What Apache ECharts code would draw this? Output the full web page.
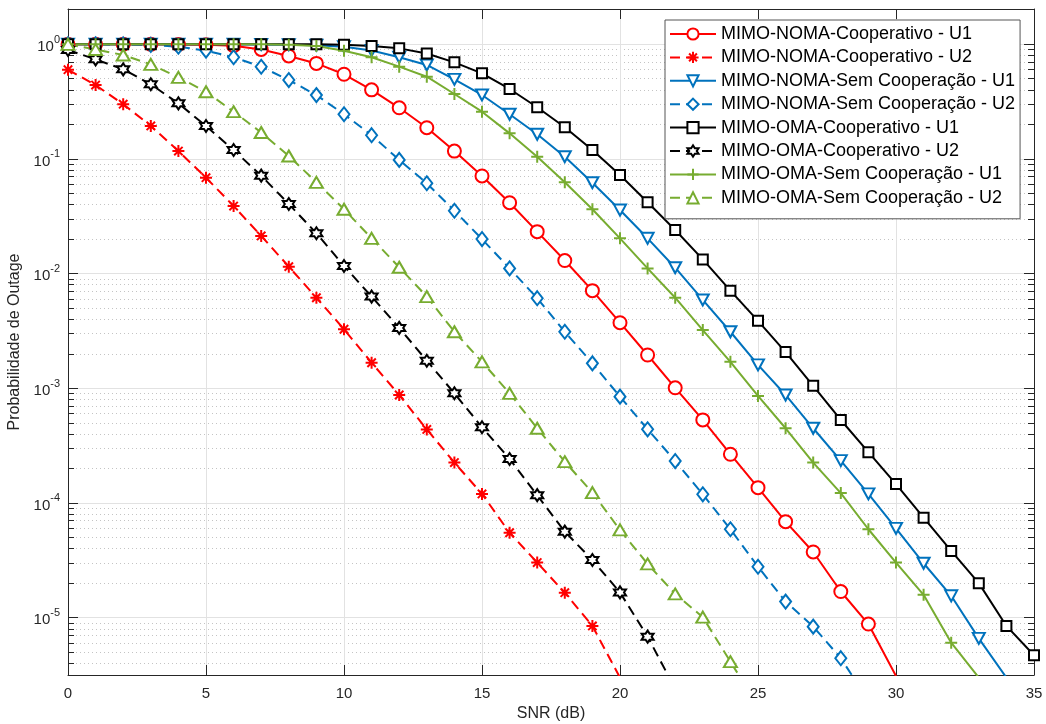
<!DOCTYPE html>
<html>
<head>
<meta charset="utf-8">
<title>Probabilidade de Outage</title>
<script src="https://cdn.jsdelivr.net/npm/echarts@6/dist/echarts.min.js"></script>
<style>
  html, body { margin: 0; padding: 0; background: #fff; }
  #chart { width: 1046px; height: 724px; }
</style>
</head>
<body>
<div id="chart"></div>
<script>
// SNR em dB (eixo x)
var snr = [0, 1, 2, 3, 4, 5, 6, 7, 8, 9, 10, 11, 12, 13, 14, 15, 16, 17, 18, 19,
           20, 21, 22, 23, 24, 25, 26, 27, 28, 29, 30, 31, 32, 33, 34, 35];
var xTicks = [0, 5, 10, 15, 20, 25, 30, 35];
var yDecades = [-5, -4, -3, -2, -1, 0];

// valores (null = fora do grafico)
var nomaCoopU1 = [0.999, 0.999, 0.999, 0.998, 0.995, 0.99, 0.97, 0.90, 0.79, 0.68,
                  0.547, 0.40, 0.279, 0.187, 0.117, 0.071, 0.0415, 0.0232, 0.0130, 0.0071,
                  0.00373, 0.00195, 0.00101, 5.3e-4, 2.66e-4, 1.36e-4, 6.87e-5, 3.74e-5, 1.69e-5, 8.8e-6,
                  3.1e-6, null, null, null, null, null];
var nomaCoopU2 = [0.60, 0.44, 0.30, 0.194, 0.117, 0.0686, 0.0388, 0.0213, 0.0115, 0.00616,
                  0.00327, 0.00167, 8.74e-4, 4.38e-4, 2.25e-4, 1.20e-4, 5.5e-5, 3.02e-5, 1.65e-5, 8.47e-6,
                  3.0e-6, null, null, null, null, null, null, null, null, null,
                  null, null, null, null, null, null];
var nomaSemU1 = [1.0, 1.0, 1.0, 1.0, 0.999, 0.999, 0.998, 0.995, 0.99, 0.98,
                 0.95, 0.88, 0.77, 0.659, 0.494, 0.361, 0.245, 0.164, 0.1045, 0.062,
                 0.0358, 0.0203, 0.01125, 0.00589, 0.00311, 0.0016, 8.74e-4, 4.48e-4, 2.34e-4, 1.20e-4,
                 6.0e-5, 2.98e-5, 1.55e-5, 6.6e-6, 3.0e-6, null];
var nomaSemU2 = [0.999, 0.998, 0.995, 0.985, 0.95, 0.88, 0.77, 0.636, 0.487, 0.36,
                 0.245, 0.161, 0.098, 0.0613, 0.0353, 0.020, 0.0111, 0.0061, 0.00311, 0.00165,
                 8.45e-4, 4.39e-4, 2.32e-4, 1.19e-4, 5.9e-5, 2.78e-5, 1.38e-5, 8.35e-6, 4.43e-6, 1.9e-6,
                 null, null, null, null, null, null];
var omaCoopU1 = [1.0, 1.0, 1.0, 1.0, 1.0, 1.0, 1.0, 0.999, 0.999, 0.998,
                 0.99, 0.965, 0.92, 0.83, 0.695, 0.557, 0.407, 0.282, 0.189, 0.1196,
                 0.0724, 0.0419, 0.0240, 0.0133, 0.0071, 0.00387, 0.00207, 0.00105, 5.29e-4, 2.77e-4,
                 1.46e-4, 7.45e-5, 3.82e-5, 2.0e-5, 8.47e-6, 4.7e-6];
var omaCoopU2 = [0.89, 0.738, 0.604, 0.447, 0.305, 0.1935, 0.1196, 0.0714, 0.0404, 0.0225,
                 0.01165, 0.0063, 0.00336, 0.00174, 9.04e-4, 4.57e-4, 2.42e-4, 1.17e-4, 5.62e-5, 3.18e-5,
                 1.66e-5, 6.83e-6, 2.4e-6, null, null, null, null, null, null, null,
                 null, null, null, null, null, null];
var omaSemU1 = [1.0, 1.0, 1.0, 1.0, 1.0, 1.0, 0.999, 0.998, 0.99, 0.965,
                0.877, 0.77, 0.637, 0.521, 0.368, 0.258, 0.167, 0.1045, 0.0625, 0.0364,
                0.0203, 0.0111, 0.00616, 0.00322, 0.0017, 8.57e-4, 4.48e-4, 2.25e-4, 1.22e-4, 5.9e-5,
                3.02e-5, 1.58e-5, 6.05e-6, 3.0e-6, null, null];
var omaSemU2 = [0.998, 0.90, 0.805, 0.668, 0.514, 0.385, 0.258, 0.170, 0.106, 0.0625,
                0.0364, 0.0203, 0.01135, 0.0063, 0.00311, 0.0017, 9.04e-4, 4.48e-4, 2.29e-4, 1.23e-4,
                5.82e-5, 2.94e-5, 1.61e-5, 1.01e-5, 4.13e-6, 1.7e-6, null, null, null, null,
                null, null, null, null, null, null];

var FONT = 'Liberation Sans, Arial, Helvetica, sans-serif';
var AX = '#262626';
var RED = '#FF0000', BLUE = '#0072BD', BLACK = '#000000', GREEN = '#77AC30';

// simbolos do matlab
var asterisk = 'path://M5,0L5,10M0,5L10,5M1.5,1.5L8.5,8.5M8.5,1.5L1.5,8.5';
var plus = 'path://M5,0L5,10M0,5L10,5';
var hexagram = 'path://M5,0L6.443,2.5L9.33,2.5L7.887,5L9.33,7.5L6.443,7.5L5,10L3.557,7.5L0.67,7.5L2.113,5L0.67,2.5L3.557,2.5Z';

var logMin = -5.5, logMax = 0.307;
var minorLogs = [];
for (var e = -6; e <= 0; e++) {
    for (var k = 2; k <= 9; k++) {
        var v = e + Math.log10(k);
        if (v > logMin && v < logMax) minorLogs.push(v);
    }
}

function pts(vals) {
    var out = [];
    snr.forEach(function (x, i) {
        if (vals[i] != null) out.push([x, vals[i]]);
    });
    return out;
}

function mkSeries(name, vals, color, symbol, size, dashed, rotate) {
    return {
        name: name,
        type: 'line',
        xAxisIndex: 0,
        yAxisIndex: 0,
        data: pts(vals),
        symbol: symbol,
        symbolSize: size,
        symbolRotate: rotate || 0,
        showAllSymbol: true,
        clip: true,
        lineStyle: { color: color, width: 2, type: dashed ? [10, 6] : 'solid' },
        itemStyle: { color: '#fff', borderColor: color, borderWidth: 2 },
        emphasis: { disabled: true },
        z: 3
    };
}

var chart = echarts.init(document.getElementById('chart'));

var option = {
    animation: false,
    backgroundColor: '#fff',
    textStyle: { fontFamily: FONT },
    grid: { left: 68, right: 12, top: 9, bottom: 49, containLabel: false, outerBoundsMode: 'none' },
    legend: {
        orient: 'vertical',
        left: 665,
        top: 20,
        itemWidth: 46,
        itemHeight: 14,
        itemGap: 3.4,
        padding: [4, 5, 11, 4],
        backgroundColor: '#fff',
        borderColor: '#555',
        borderWidth: 1,
        textStyle: { fontSize: 18, color: '#000', fontFamily: FONT, lineHeight: 20 },
        selectedMode: false
    },
    xAxis: [{
        type: 'value',
        position: 'bottom',
        min: xTicks[0],
        max: xTicks[xTicks.length - 1],
        interval: 5,
        name: 'SNR (dB)',
        nameLocation: 'middle',
        nameGap: 31,
        nameTextStyle: { fontSize: 16, color: AX, fontFamily: FONT },
        axisLine: { show: true, onZero: false, lineStyle: { color: AX, width: 1 } },
        axisTick: { show: true, inside: true, length: 10, lineStyle: { color: AX } },
        axisLabel: { fontSize: 15, color: AX, margin: 11, fontFamily: FONT },
        splitLine: { show: true, lineStyle: { color: '#e2e2e2', width: 1 } }
    }, {
        type: 'value',
        position: 'top',
        min: xTicks[0],
        max: xTicks[xTicks.length - 1],
        interval: 5,
        axisLine: { show: true, onZero: false, lineStyle: { color: AX, width: 1 } },
        axisTick: { show: true, inside: true, length: 10, lineStyle: { color: AX } },
        axisLabel: { show: false },
        splitLine: { show: false }
    }],
    yAxis: [{
        type: 'log',
        logBase: 10,
        position: 'left',
        min: Math.pow(10, logMin),
        max: Math.pow(10, logMax),
        name: 'Probabilidade de Outage',
        nameLocation: 'middle',
        nameGap: 41,
        nameTextStyle: { fontSize: 16, color: AX, fontFamily: FONT },
        axisLine: { show: true, onZero: false, lineStyle: { color: AX, width: 1 } },
        axisTick: { show: true, inside: true, length: 10, lineStyle: { color: AX } },
        axisLabel: {
            margin: 8,
            showMinLabel: false,
            showMaxLabel: false,
            formatter: function (val) {
                var p = Math.log10(val);
                var r = Math.round(p);
                if (Math.abs(p - r) > 0.01 || yDecades.indexOf(r) < 0) return '';
                return '{b|10}{s|' + r + '}';
            },
            rich: {
                b: { fontSize: 15, color: AX, fontFamily: FONT, lineHeight: 20, verticalAlign: 'bottom' },
                s: { fontSize: 11, color: AX, fontFamily: FONT, lineHeight: 12, verticalAlign: 'top' }
            }
        },
        splitLine: { show: true, lineStyle: { color: '#e2e2e2', width: 1 } },
        minorTick: { show: false },
        minorSplitLine: { show: false }
    }, {
        // subdivisoes 2..9 de cada decada (grade pontilhada)
        type: 'value',
        position: 'left',
        min: logMin,
        max: logMax,
        axisLine: { show: false, onZero: false },
        axisTick: { show: true, inside: true, length: 6, customValues: minorLogs, lineStyle: { color: AX } },
        axisLabel: { show: false },
        splitLine: { show: true, lineStyle: { color: '#c4c4c4', width: 1, type: [1, 3] } }
    }, {
        type: 'value',
        position: 'right',
        min: logMin,
        max: logMax,
        axisLine: { show: true, onZero: false, lineStyle: { color: AX, width: 1 } },
        axisTick: { show: true, inside: true, length: 10, customValues: yDecades, lineStyle: { color: AX } },
        axisLabel: { show: false },
        splitLine: { show: false }
    }, {
        type: 'value',
        position: 'right',
        min: logMin,
        max: logMax,
        axisLine: { show: false, onZero: false },
        axisTick: { show: true, inside: true, length: 6, customValues: minorLogs, lineStyle: { color: AX } },
        axisLabel: { show: false },
        splitLine: { show: false }
    }],
    series: [
        mkSeries('MIMO-NOMA-Cooperativo - U1', nomaCoopU1, RED, 'circle', 13, false),
        mkSeries('MIMO-NOMA-Cooperativo - U2', nomaCoopU2, RED, asterisk, 12, true),
        mkSeries('MIMO-NOMA-Sem Cooperação - U1', nomaSemU1, BLUE, 'triangle', [12, 11], false, 180),
        mkSeries('MIMO-NOMA-Sem Cooperação - U2', nomaSemU2, BLUE, 'diamond', [11, 14], true),
        mkSeries('MIMO-OMA-Cooperativo - U1', omaCoopU1, BLACK, 'rect', 10, false),
        mkSeries('MIMO-OMA-Cooperativo - U2', omaCoopU2, BLACK, hexagram, 12, true),
        mkSeries('MIMO-OMA-Sem Cooperação - U1', omaSemU1, GREEN, plus, 12, false),
        mkSeries('MIMO-OMA-Sem Cooperação - U2', omaSemU2, GREEN, 'triangle', [13, 11], true)
    ]
};

chart.setOption(option);
window.addEventListener('resize', function () {
    chart.resize();
});
</script>
</body>
</html>
